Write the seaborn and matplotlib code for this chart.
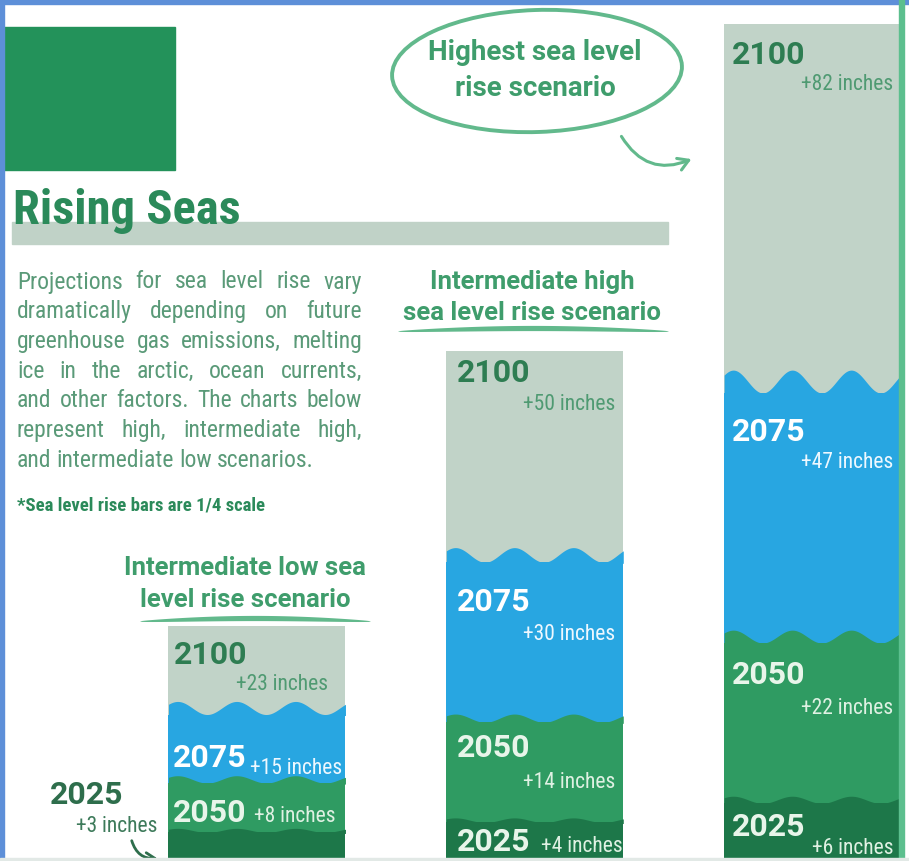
#!/usr/bin/env python3
"""
Rising Seas infographic - stacked sea level rise bars for three scenarios.
"""

import numpy as np
import pandas as pd
import matplotlib.pyplot as plt
import seaborn as sns
from matplotlib import font_manager
from matplotlib.patches import Ellipse, Rectangle, FancyArrowPatch

# Sea level rise (inches, cumulative) per scenario and year
scenarios = ["Intermediate low", "Intermediate high", "Highest"]
years = ["2025", "2050", "2075", "2100"]
rise_low = [3, 8, 15, 23]
rise_mid = [4, 14, 30, 50]
rise_high = [6, 22, 47, 82]

headings = [
    ["Intermediate low sea", "level rise scenario"],
    ["Intermediate high", "sea level rise scenario"],
    ["Highest sea level", "rise scenario"],
]
title = "Rising Seas"
intro = [
    "Projections for sea level rise vary",
    "dramatically depending on future",
    "greenhouse gas emissions, melting",
    "ice in the arctic, ocean currents,",
    "and other factors. The charts below",
    "represent high, intermediate high,",
    "and intermediate low scenarios.",
]
footnote = "*Sea level rise bars are 1/4 scale"

# Colours
year_colors = {"2025": "#1d7749", "2050": "#2f9b62", "2075": "#28a6e1", "2100": "#c1d3c8"}
year_text = {"2025": "#e8f5ea", "2050": "#e8f5ea", "2075": "#ffffff", "2100": "#2e7d52"}
inch_text = {"2025": "#dff1e3", "2050": "#dff1e3", "2075": "#eef8ff", "2100": "#4f9a72"}
wave_amp = {"2025": 0.25, "2050": 0.45, "2075": 0.8}
wave_scale = [0.8, 0.9, 1.4]  # taller bars have choppier water
DARK = "#2b8a5a"
MID = "#3f9d6c"
SOFT = "#62b98c"

# Layout (pixels in the 909x861 output)
W, H = 909, 861
BAR_W = 0.637
year_pos = [  # (x, y) of year labels inside each bar
    {"2100": (174, 655), "2075": (173, 758), "2050": (173, 813)},
    {"2100": (457, 373), "2075": (457, 602), "2050": (457, 748), "2025": (457, 842)},
    {"2100": (732, 55), "2075": (732, 432), "2050": (732, 675), "2025": (732, 827)},
]
inch_pos = [  # (x, y, ha)
    {"2100": (328, 685, "right"), "2075": (342, 768, "right"), "2050": (336, 817, "right")},
    {"2100": (615, 405, "right"), "2075": (615, 635, "right"),
     "2050": (615, 782, "right"), "2025": (623, 847, "right")},
    {"2100": (893, 85, "right"), "2075": (893, 463, "right"),
     "2050": (893, 708, "right"), "2025": (893, 848, "right")},
]
heading_pos = [(245, [568, 600], 18.5), (532, [282, 313], 18.5), (535, [52, 88], 20)]

names = {f.name for f in font_manager.fontManager.ttflist}
BOLD = "Roboto" if "Roboto" in names else "DejaVu Sans"
NARROW = BOLD
for cand in ["Liberation Sans Narrow", "Roboto Condensed", "Open Sans Condensed"]:
    if cand in names:
        NARROW = cand
        break

df = pd.DataFrame({
    "scenario": np.repeat(scenarios, len(years)),
    "year": years * len(scenarios),
    "inches": rise_low + rise_mid + rise_high,
})

sns.set_style("white")
fig = plt.figure(figsize=(W / 100, H / 100), dpi=100)
fig.patch.set_facecolor("white")

# --- bars: tallest (2100) first, earlier years drawn over them ---
ax = fig.add_axes([0, 0, 1, 1])
for yr in reversed(years):
    sns.barplot(data=df[df["year"] == yr], x="scenario", y="inches", order=scenarios,
                color=year_colors[yr], saturation=1, width=BAR_W, errorbar=None,
                linewidth=0, ax=ax)

# wavy water line on top of each segment
for i, sc in enumerate(scenarios):
    vals = df[df["scenario"] == sc].set_index("year")["inches"]
    left = i - BAR_W / 2
    xs = np.linspace(left, left + BAR_W, 300)
    for k, yr in enumerate(years[:-1]):
        top, amp = vals[yr], wave_amp[yr] * wave_scale[i]
        ys = top + amp * np.sin(2 * np.pi * 3 * (xs - left) / BAR_W + 0.6)
        ax.fill_between(xs, top - amp, top + amp + 0.05, color=year_colors[years[k + 1]],
                        lw=0, zorder=3)
        ax.fill_between(xs, top - amp - 0.1, ys, color=year_colors[yr], lw=0, zorder=3)

ax.set_xlim(-0.925, 2.347)
ax.set_ylim(0, 84.4)
ax.axis("off")

# --- overlay in pixel coordinates for all the text and decoration ---
ov = fig.add_axes([0, 0, 1, 1])
ov.set_xlim(0, W)
ov.set_ylim(H, 0)
ov.axis("off")
ov.patch.set_alpha(0)

ov.add_patch(Rectangle((4, 27), 171, 143, color="#23925a"))
ov.add_patch(Rectangle((12, 222), 656, 22, color="#c0d2c7"))
ov.text(13, 224, title, fontsize=35, weight="bold", family=NARROW, color=DARK,
        va="baseline")

# justified intro paragraph
renderer = fig.canvas.get_renderer()
for n, line in enumerate(intro):
    y = 282 + n * 29.7
    words = line.split()
    texts = [ov.text(17, y, w, fontsize=17, family=NARROW, color="#5a9a78", va="center")
             for w in words]
    widths = [t.get_window_extent(renderer).width for t in texts]
    if n == len(intro) - 1:
        gap = 5
    else:
        gap = (345 - sum(widths)) / (len(words) - 1)
    x = 17
    for t, wd in zip(texts, widths):
        t.set_x(x)
        x += wd + gap
ov.text(17, 505, footnote, fontsize=13.5, weight="bold", family=NARROW, color=DARK,
        va="center")

# scenario headings
for (cx, ys, size), lines in zip(heading_pos, headings):
    for y, s in zip(ys, lines):
        ov.text(cx, y, s, fontsize=size, weight="bold", family=BOLD, color=MID,
                ha="center", va="center")


def swoosh(x0, x1, y):
    t = np.linspace(0, 1, 120)
    xs = x0 + (x1 - x0) * t
    mid = y - 3 * np.sin(np.pi * t)
    thick = 2.4 * np.sin(np.pi * t) ** 0.6 + 0.2
    ov.fill_between(xs, mid - thick, mid + thick, color=SOFT, lw=0)


swoosh(140, 370, 621)
swoosh(398, 668, 331)

ov.add_patch(Ellipse((537, 71), 290, 122, angle=-2, fill=False, ec=SOFT, lw=2.8))
ov.add_patch(FancyArrowPatch((620, 134), (694, 158), connectionstyle="arc3,rad=0.45",
                             arrowstyle="->,head_length=5,head_width=3", color=SOFT,
                             lw=2.2, mutation_scale=1.5))

# bar labels
for i, sc in enumerate(scenarios):
    vals = df[df["scenario"] == sc].set_index("year")["inches"]
    for yr, (x, y) in year_pos[i].items():
        ov.text(x, y, yr, fontsize=23, weight="bold", family=BOLD, color=year_text[yr],
                va="center")
    for yr, (x, y, ha) in inch_pos[i].items():
        ov.text(x, y, f"+{vals[yr]} inches", fontsize=15.5, family=NARROW,
                color=inch_text[yr], ha=ha, va="center")

# 2025 label for the low scenario sits outside its thin bar
ov.text(50, 795, years[0], fontsize=23, weight="bold", family=BOLD, color="#2e6e4c",
        va="center")
ov.text(157, 827, f"+{rise_low[0]} inches", fontsize=15.5, family=NARROW, color="#3d7a5a",
        ha="right", va="center")
ov.add_patch(FancyArrowPatch((131, 838), (160, 858), connectionstyle="arc3,rad=0.45",
                             arrowstyle="->,head_length=4,head_width=3", color="#2e6e4c",
                             lw=2, mutation_scale=1.5))

# frame edges
ov.add_patch(Rectangle((0, 0), 4, H, color="#5d8fd8"))
ov.add_patch(Rectangle((0, 0), W, 3.5, color="#5d8fd8"))
ov.add_patch(Rectangle((899, 0), 5, H, color="#5cbf8e"))
ov.add_patch(Rectangle((0, 858), W, 3, color="#e2e9e6"))

fig.savefig("out.png", dpi=100, facecolor="white")
